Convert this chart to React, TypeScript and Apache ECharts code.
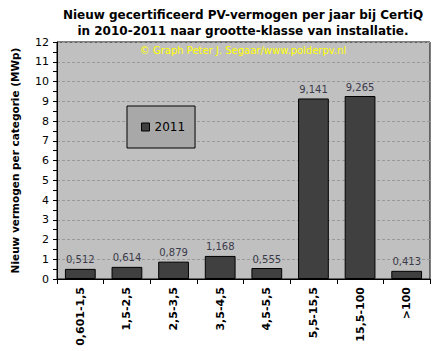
import React, { useEffect, useRef } from "react";
import * as echarts from "echarts";

const categories = ["0,601-1,5", "1,5-2,5", "2,5-3,5", "3,5-4,5", "4,5-5,5", "5,5-15,5", "15,5-100", ">100"];
const values2011 = [0.512, 0.614, 0.879, 1.168, 0.555, 9.141, 9.265, 0.413];
const titleLines = ["Nieuw gecertificeerd PV-vermogen per jaar bij CertiQ", "in 2010-2011 naar grootte-klasse van installatie."];
const credit = "© Graph Peter J. Segaar/www.polderpv.nl";
const yName = "Nieuw vermogen per categorie (MWp)";
const seriesName = "2011";

export default function App() {
  const ref = useRef<HTMLDivElement>(null);
  useEffect(() => {
    const chart = echarts.init(ref.current!, undefined, { renderer: "svg" });
    const font = "DejaVu Sans, Verdana, sans-serif";
    chart.setOption({
      animation: false,
      backgroundColor: "#ffffff",
      graphic: [
        {
          type: "text",
          x: 243,
          y: 15,
          style: {
            text: titleLines[0],
            textAlign: "center",
            textVerticalAlign: "middle",
            font: `bold 12px ${font}`,
            fill: "#000",
          },
        },
        {
          type: "text",
          x: 243,
          y: 31,
          style: {
            text: titleLines[1],
            textAlign: "center",
            textVerticalAlign: "middle",
            font: `bold 12px ${font}`,
            fill: "#000",
          },
        },
        {
          type: "text",
          x: 243,
          y: 50,
          z: 100,
          style: {
            text: credit,
            textAlign: "center",
            textVerticalAlign: "middle",
            font: `10px ${font}`,
            fill: "#ffff00",
          },
        },
      ],
      legend: {
        show: true,
        left: 127,
        top: 106,
        width: 70,
        height: 46,
        padding: [15, 10, 15, 14],
        backgroundColor: "#a8a8a8",
        borderColor: "#000",
        borderWidth: 1,
        itemWidth: 8,
        itemHeight: 8,
        itemGap: 2,
        icon: "rect",
        textStyle: { fontFamily: font, fontSize: 12, color: "#000" },
        data: [{ name: seriesName, itemStyle: { color: "#404040", borderColor: "#000", borderWidth: 1 } }],
      },
      grid: {
        left: 57,
        right: 11,
        top: 42,
        bottom: 72,
        show: true,
        backgroundColor: "#c0c0c0",
        borderColor: "#000",
        borderWidth: 1,
        containLabel: false,
      },
      xAxis: {
        type: "category",
        data: categories,
        axisLine: { lineStyle: { color: "#000", width: 1 } },
        axisTick: { show: true, lineStyle: { color: "#000" }, length: 5 },
        axisLabel: {
          rotate: 90,
          interval: 0,
          fontFamily: font,
          fontSize: 11,
          fontWeight: "bold",
          color: "#000",
          margin: 8,
        },
      },
      yAxis: {
        type: "value",
        min: 0,
        max: 12,
        interval: 1,
        name: yName,
        nameLocation: "middle",
        nameGap: 37,
        nameTextStyle: { fontFamily: font, fontSize: 10.5, fontWeight: "bold", color: "#000" },
        axisLine: { show: true, lineStyle: { color: "#000" } },
        axisTick: { show: true, length: 4, lineStyle: { color: "#000" } },
        minorTick: { show: true, splitNumber: 2, length: 4, lineStyle: { color: "#000" } },
        axisLabel: { fontFamily: font, fontSize: 11, color: "#000", margin: 8 },
        splitLine: { show: true, lineStyle: { color: "#999", type: [3, 2], width: 1 } },
      },
      series: [
        {
          name: seriesName,
          type: "bar",
          data: values2011,
          barWidth: "66%",
          itemStyle: { color: "#404040", borderColor: "#000", borderWidth: 1 },
          label: {
            show: true,
            position: "top",
            distance: 4,
            fontFamily: font,
            fontSize: 10,
            color: "#3a3a4a",
            formatter: (p: any) => (p.value as number).toFixed(3).replace(".", ","),
          },
        },
      ],
    });
    return () => chart.dispose();
  }, []);
  return <div ref={ref} style={{ width: 441, height: 351, position: "absolute", left: 0, top: 0 }} />;
}
